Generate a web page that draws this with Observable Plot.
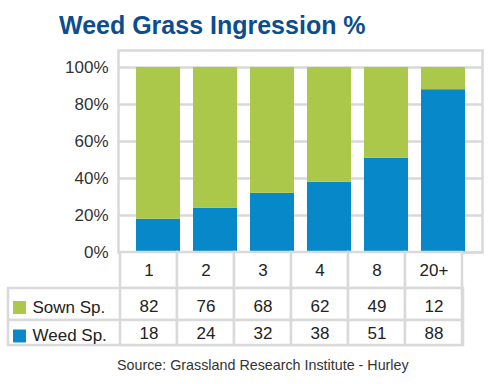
<!DOCTYPE html>
<html>
<head>
<meta charset="utf-8">
<script src="https://cdn.jsdelivr.net/npm/d3@7"></script>
<script src="https://cdn.jsdelivr.net/npm/@observablehq/plot@0.6"></script>
<style>
  html, body { margin: 0; padding: 0; background: #ffffff; }
  #wrap { position: relative; width: 492px; height: 384px; overflow: hidden; background: #fff;
          font-family: "Liberation Sans", Arial, Helvetica, sans-serif; }
  #chart, #table { position: absolute; left: 0; }
  #chart { top: 0; }
  #table { top: 252px; }
  #title { position: absolute; left: 59px; top: 13px; font-weight: bold; font-size: 25px; line-height: 25px;
           color: #0c4d8d; white-space: nowrap; }
  #caption { position: absolute; left: 117px; top: 358px; font-size: 14.3px; line-height: 15px; color: #333;
             white-space: nowrap; }
  svg { overflow: visible; }
</style>
</head>
<body>
<div id="wrap">
  <div id="chart"></div>
  <div id="table"></div>
  <div id="title">Weed Grass Ingression %</div>
  <div id="caption">Source: Grassland Research Institute - Hurley</div>
</div>
<script>
// ---- data ----
const categories = ["1", "2", "3", "4", "8", "20+"];
const seriesNames = ["Sown Sp.", "Weed Sp."];
const sown = [82, 76, 68, 62, 49, 12];
const weed = [18, 24, 32, 38, 51, 88];
const yTicks = [0, 20, 40, 60, 80, 100];

// ---- styling ----
const green = "#abc84b";
const blue = "#0788c8";
const gridColor = "#d9d9d9";
const font = "'Liberation Sans', Arial, Helvetica, sans-serif";

// stacked data: weed at the bottom, sown on top
const stackData = [];
categories.forEach((c, i) => {
  stackData.push({cat: c, series: "Weed Sp.", value: weed[i]});
  stackData.push({cat: c, series: "Sown Sp.", value: sown[i]});
});

const chart = Plot.plot({
  width: 492,
  height: 254,
  marginTop: 50,
  marginBottom: 2,
  marginLeft: 118,
  marginRight: 10,
  style: {fontFamily: font, fontSize: "17px", color: "#333", background: "transparent"},
  x: {type: "band", domain: categories, paddingInner: 0.22, paddingOuter: 0.11, insetLeft: 10, insetRight: 8, axis: null},
  y: {domain: [0, 100], insetTop: 17, ticks: yTicks, tickFormat: d => d + "%", tickSize: 0, tickPadding: 10, label: null},
  color: {domain: seriesNames, range: [green, blue]},
  marks: [
    Plot.ruleY(yTicks, {stroke: gridColor, strokeWidth: 2.5}),
    Plot.barY(stackData, {x: "cat", y: "value", fill: "series"}),
    Plot.frame({stroke: gridColor, strokeWidth: 2.5})
  ]
});
document.getElementById("chart").appendChild(chart);

// ---- table ----
const rowLayout = {cat: [0, 36, 0], "Sown Sp.": [36, 68, 2], "Weed Sp.": [68, 93, 1]};
const cells = [];
categories.forEach((c, i) => {
  cells.push({cat: c, row: "cat", label: c});
  cells.push({cat: c, row: "Sown Sp.", label: String(sown[i])});
  cells.push({cat: c, row: "Weed Sp.", label: String(weed[i])});
});
const legendRows = seriesNames.map(n => ({name: n}));
const y1 = d => rowLayout[d.row][0];
const y2 = d => rowLayout[d.row][1];
const yc = d => (rowLayout[d.row][0] + rowLayout[d.row][1]) / 2 + rowLayout[d.row][2];

const table = Plot.plot({
  width: 492,
  height: 95,
  marginTop: 0,
  marginBottom: 0,
  marginLeft: 8,
  marginRight: 29,
  style: {fontFamily: font, fontSize: "17px", color: "#222", background: "transparent"},
  x: {type: "band", domain: categories, range: [118, 463], padding: 0, axis: null},
  y: {domain: [0, 95], range: [0, 95], axis: null},
  color: {domain: seriesNames, range: [green, blue]},
  marks: [
    Plot.rect(legendRows, {y1: d => rowLayout[d.name][0], y2: d => rowLayout[d.name][1], fill: "white", stroke: gridColor, strokeWidth: 2.5}),
    Plot.barY(cells, {x: "cat", y1, y2, fill: "white", stroke: gridColor, strokeWidth: 2.5}),
    Plot.text(cells, {x: "cat", y: yc, text: "label", fill: "#222"}),
    Plot.dot(legendRows, {frameAnchor: "left", dx: 11, y: d => (rowLayout[d.name][0] + rowLayout[d.name][1]) / 2 + 3, symbol: "square", r: 7.3, fill: "name", stroke: null}),
    Plot.text(legendRows, {frameAnchor: "left", dx: 24, textAnchor: "start", y: d => (rowLayout[d.name][0] + rowLayout[d.name][1]) / 2 + 3, text: "name", fill: "#222"})
  ]
});
document.getElementById("table").appendChild(table);
</script>
</body>
</html>
